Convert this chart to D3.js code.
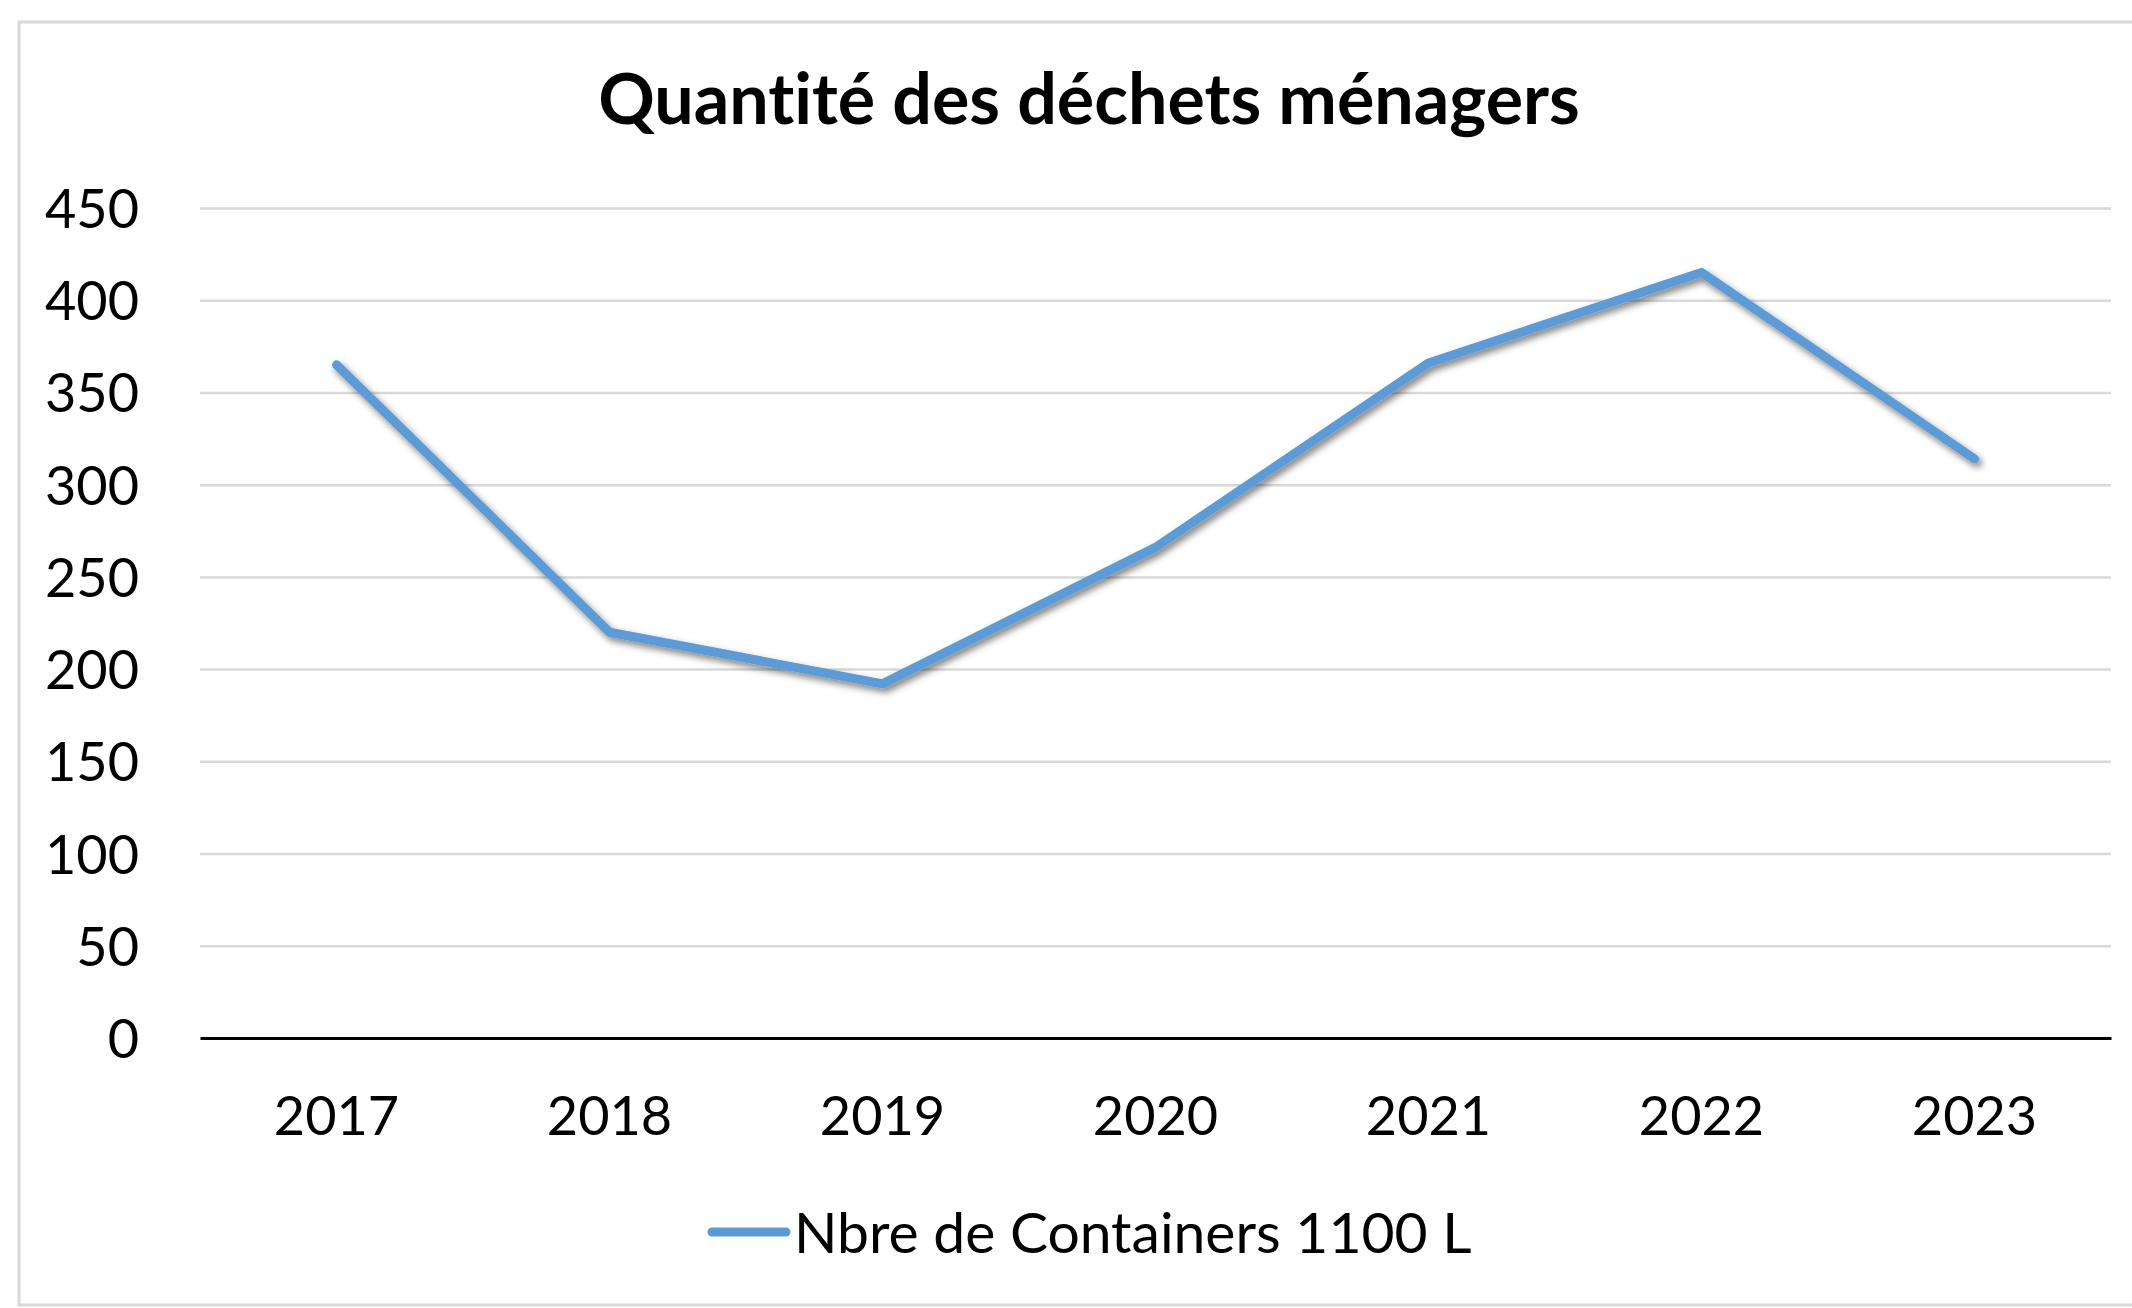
<!DOCTYPE html>
<html>
<head>
<meta charset="utf-8">
<script src="https://cdn.jsdelivr.net/npm/d3@7"></script>
<style>
  html, body { margin: 0; padding: 0; background: #fff; }
  text { font-family: Lato, "Open Sans", sans-serif; fill: #000; font-variant-ligatures: none; }
</style>
</head>
<body>
<div id="d3-chart"></div>
<script>
const years = ['2017', '2018', '2019', '2020', '2021', '2022', '2023'];
const containers = [365, 220, 192, 266, 366, 415, 314];
const yTicks = [0, 50, 100, 150, 200, 250, 300, 350, 400, 450];
const chartTitle = 'Quantité des déchets ménagers';
const seriesName = 'Nbre de Containers 1100 L';

const W = 2132, H = 1308;
const margin = { top: 208, right: 21, bottom: 270, left: 200 };
const width = W - margin.left - margin.right;
const height = H - margin.top - margin.bottom;
const lineColor = '#5B9BD5';

const svg = d3.select('#d3-chart').append('svg')
    .attr('width', W)
    .attr('height', H);

// drop shadow like the office line style
const defs = svg.append('defs');
const shadow = defs.append('filter')
    .attr('id', 'shadow')
    .attr('x', '-10%').attr('y', '-10%')
    .attr('width', '120%').attr('height', '130%');
shadow.append('feDropShadow')
    .attr('dx', 3).attr('dy', 4)
    .attr('stdDeviation', 3.5)
    .attr('flood-color', '#000')
    .attr('flood-opacity', 0.5);

// chart frame (cut off on the right in the original)
svg.append('rect')
    .attr('x', 19).attr('y', 22)
    .attr('width', 2160).attr('height', 1283)
    .attr('fill', '#fff')
    .attr('stroke', '#d9d9d9')
    .attr('stroke-width', 3);

// title
svg.append('text')
    .attr('x', 1089).attr('y', 124)
    .attr('text-anchor', 'middle')
    .style('font-size', '70px')
    .style('font-weight', 'bold')
    .text(chartTitle);

const focus = svg.append('g')
    .attr('transform', 'translate(' + margin.left + ',' + margin.top + ')');

// scales
const xScale = d3.scaleBand()
    .domain(years)
    .range([0, width]);
const yScale = d3.scaleLinear()
    .domain([0, 450])
    .range([height, 0]);

// gridlines
focus.append('g')
    .attr('class', 'grid')
    .call(d3.axisLeft(yScale).tickValues(yTicks.slice(1)).tickSize(-width).tickFormat(''))
    .call(g => g.select('.domain').remove())
    .call(g => g.selectAll('line').attr('stroke', '#d9d9d9').attr('stroke-width', 2.5));

// y axis labels
focus.append('g')
    .attr('class', 'y-axis')
    .call(d3.axisLeft(yScale).tickValues(yTicks).tickSize(0).tickPadding(61))
    .call(g => g.select('.domain').remove())
    .call(g => g.selectAll('text').style('font-size', '54px').attr('dy', '0.36em'));

// x axis
focus.append('g')
    .attr('class', 'x-axis')
    .attr('transform', 'translate(0,' + height + ')')
    .call(d3.axisBottom(xScale).tickSize(0).tickPadding(59))
    .call(g => g.select('.domain').attr('stroke', '#000').attr('stroke-width', 3))
    .call(g => g.selectAll('text').style('font-size', '54px').attr('dy', '0.71em'));

// line
const line = d3.line()
    .x((d, i) => xScale(years[i]) + xScale.bandwidth() / 2)
    .y(d => yScale(d));

focus.append('path')
    .datum(containers)
    .attr('fill', 'none')
    .attr('stroke', lineColor)
    .attr('stroke-width', 9)
    .attr('stroke-linecap', 'round')
    .attr('stroke-linejoin', 'round')
    .attr('filter', 'url(#shadow)')
    .attr('d', line);

// legend
const legend = svg.append('g')
    .attr('transform', 'translate(708,1232)');
legend.append('line')
    .attr('x1', 4).attr('x2', 78)
    .attr('y1', 0).attr('y2', 0)
    .attr('stroke', lineColor)
    .attr('stroke-width', 9)
    .attr('stroke-linecap', 'round');
legend.append('text')
    .attr('x', 86).attr('y', 0)
    .attr('dy', '0.36em')
    .style('font-size', '57px')
    .text(seriesName);
</script>
</body>
</html>
